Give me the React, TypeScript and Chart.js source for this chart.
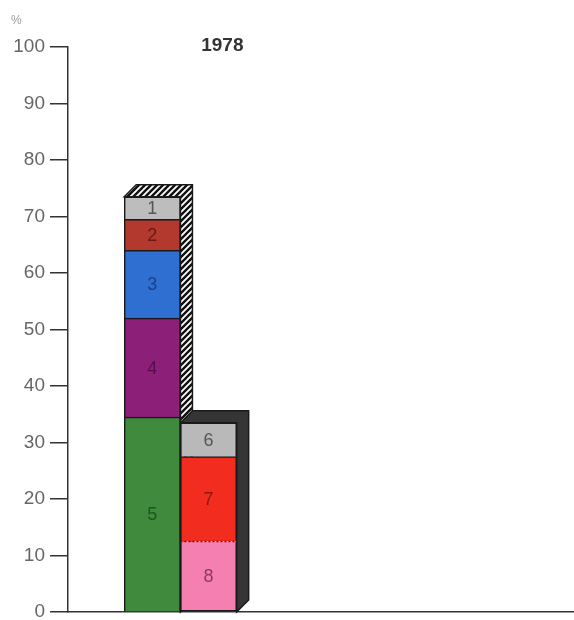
import React, { useEffect, useRef } from "react";
import { Chart, registerables } from "chart.js";

Chart.register(...registerables);

// ---- data ----
const categories = ["", "Bar 1", "Bar 2", "", "", "", "", "", ""];
const yTickValues = [0, 10, 20, 30, 40, 50, 60, 70, 80, 90, 100];
const titleText = "1978";
const unitLabel = "%";

const bar1Segments = ["5", "4", "3", "2", "1"];
const bar1Values = [34.5, 17.5, 12, 5.5, 4];
const bar1Colors = ["#3f8a3c", "#8c1f78", "#2f6fd2", "#b3392e", "#bdbdbd"];
const bar1TextColors = ["#1c561c", "#55104a", "#1d3f88", "#6a1a14", "#555555"];

const bar2Segments = ["8", "7", "6"];
const bar2Values = [12.5, 15, 6];
const bar2Colors = ["#f67fb2", "#f22c1e", "#b9b9b9"];
const bar2TextColors = ["#8a3a5e", "#8a1a10", "#555555"];

const FONT = "'Liberation Sans', Arial, sans-serif";

function makeHatch(): CanvasPattern | string {
  const c = document.createElement("canvas");
  c.width = 6;
  c.height = 6;
  const g = c.getContext("2d");
  if (!g) return "#888";
  g.fillStyle = "#ffffff";
  g.fillRect(0, 0, 6, 6);
  g.strokeStyle = "#111111";
  g.lineWidth = 2.4;
  g.beginPath();
  g.moveTo(-1, 7);
  g.lineTo(7, -1);
  g.moveTo(-4, 4);
  g.lineTo(4, -4);
  g.moveTo(2, 10);
  g.lineTo(10, 2);
  g.stroke();
  const p = g.createPattern(c, "repeat");
  return p || "#888";
}

export default function App() {
  const ref = useRef<HTMLCanvasElement | null>(null);

  useEffect(() => {
    document.body.style.margin = "0";
    document.body.style.overflow = "hidden";
    const canvas = ref.current;
    if (!canvas) return;

    const datasets: any[] = [];
    const segInfo: { label: string; textColor: string }[] = [];
    bar1Values.forEach((v, i) => {
      datasets.push({
        label: "Segment " + bar1Segments[i],
        data: categories.map((_, k) => (k === 1 ? v : null)),
        backgroundColor: bar1Colors[i],
        borderColor: "#1a1a1a",
        borderWidth: 1.5,
        borderSkipped: "start",
        stack: "s",
      });
      segInfo.push({ label: bar1Segments[i], textColor: bar1TextColors[i] });
    });
    bar2Values.forEach((v, i) => {
      datasets.push({
        label: "Segment " + bar2Segments[i],
        data: categories.map((_, k) => (k === 2 ? v : null)),
        backgroundColor: bar2Colors[i],
        borderColor: "#1a1a1a",
        borderWidth: 1.5,
        borderSkipped: i === 0 ? "end" : i === 1 ? "start" : "start",
        stack: "s",
      });
      segInfo.push({ label: bar2Segments[i], textColor: bar2TextColors[i] });
    });

    const hatch = makeHatch();
    const depth = 12;

    const solidPlugin = {
      id: "solid3d",
      beforeDatasetsDraw(chart: any) {
        const ctx = chart.ctx;
        const yScale = chart.scales.y;
        const bars = [
          { cat: 1, values: bar1Values, fill: hatch },
          { cat: 2, values: bar2Values, fill: "#353535" },
        ];
        bars.forEach((b) => {
          let el: any = null;
          chart.data.datasets.forEach((ds: any, di: number) => {
            if (ds.data[b.cat] != null && !el) {
              el = chart.getDatasetMeta(di).data[b.cat];
            }
          });
          if (!el) return;
          const total = b.values.reduce((a, c) => a + c, 0);
          const left = el.x - el.width / 2;
          const right = el.x + el.width / 2;
          const top = yScale.getPixelForValue(total);
          const bottom = yScale.getPixelForValue(0);
          ctx.save();
          ctx.beginPath();
          ctx.moveTo(left, top);
          ctx.lineTo(left + depth, top - depth);
          ctx.lineTo(right + depth, top - depth);
          ctx.lineTo(right + depth, bottom - depth);
          ctx.lineTo(right, bottom);
          ctx.lineTo(right, top);
          ctx.closePath();
          ctx.fillStyle = b.fill;
          ctx.fill();
          ctx.strokeStyle = "#1a1a1a";
          ctx.lineWidth = 1.5;
          ctx.stroke();
          ctx.restore();
        });
      },
      afterDatasetsDraw(chart: any) {
        const ctx = chart.ctx;
        // segment numbers
        chart.data.datasets.forEach((ds: any, di: number) => {
          const meta = chart.getDatasetMeta(di);
          ds.data.forEach((v: any, k: number) => {
            if (v == null) return;
            const el: any = meta.data[k];
            ctx.save();
            ctx.fillStyle = segInfo[di].textColor;
            ctx.font = "18px " + FONT;
            ctx.textAlign = "center";
            ctx.textBaseline = "middle";
            ctx.fillText(segInfo[di].label, el.x, (el.y + el.base) / 2 + 1);
            ctx.restore();
          });
        });
        // dotted boundary between segments 8 and 7
        const idx8 = bar1Values.length;
        const el8: any = chart.getDatasetMeta(idx8).data[2];
        if (el8) {
          ctx.save();
          ctx.strokeStyle = "#7a1010";
          ctx.lineWidth = 1.5;
          ctx.setLineDash([2, 2]);
          ctx.beginPath();
          ctx.moveTo(el8.x - el8.width / 2, el8.y);
          ctx.lineTo(el8.x + el8.width / 2, el8.y);
          ctx.stroke();
          ctx.restore();
        }
      },
      afterDraw(chart: any) {
        const ctx = chart.ctx;
        const area = chart.chartArea;
        ctx.save();
        ctx.fillStyle = "#333333";
        ctx.font = "bold 19px " + FONT;
        ctx.textAlign = "center";
        ctx.textBaseline = "middle";
        ctx.fillText(titleText, area.left + (area.right - area.left) * 0.305, area.top - 1);
        ctx.fillStyle = "#9a9a9a";
        ctx.font = "12px " + FONT;
        ctx.textAlign = "left";
        ctx.fillText(unitLabel, 11, area.top - 26);
        ctx.restore();
      },
    };

    const chart = new Chart(canvas, {
      type: "bar",
      data: { labels: categories, datasets },
      options: {
        responsive: false,
        animation: false,
        events: [],
        layout: { padding: { top: 47, bottom: 8, left: 0, right: 0 } },
        datasets: { bar: { barPercentage: 1, categoryPercentage: 1 } } as any,
        plugins: {
          legend: { display: false },
          tooltip: { enabled: false },
          title: { display: false },
        },
        scales: {
          x: {
            stacked: true,
            grid: { display: false, drawTicks: false },
            border: { display: true, color: "#333333", width: 1.5 },
            ticks: { display: false },
            afterFit(scale: any) {
              scale.height = 0;
              scale.paddingLeft = 0;
              scale.paddingRight = 0;
            },
          } as any,
          y: {
            stacked: true,
            min: 0,
            max: 100,
            afterBuildTicks(scale: any) {
              scale.ticks = yTickValues.map((v) => ({ value: v }));
            },
            grid: {
              display: true,
              drawOnChartArea: false,
              drawTicks: true,
              tickLength: 18,
              color: "#333333",
              lineWidth: 1.5,
            },
            border: { display: true, color: "#333333", width: 1.5 },
            ticks: {
              autoSkip: false,
              color: "#666666",
              padding: 5,
              font: { family: FONT, size: 19 },
            },
            afterFit(scale: any) {
              scale.width = 68;
              scale.paddingTop = 0;
              scale.paddingBottom = 0;
            },
          } as any,
        },
      },
      plugins: [solidPlugin],
    });

    return () => chart.destroy();
  }, []);

  return (
    <div style={{ position: "absolute", left: 0, top: 0, width: 574, height: 620, background: "#ffffff" }}>
      <canvas ref={ref} width={574} height={620} style={{ display: "block" }} />
    </div>
  );
}
